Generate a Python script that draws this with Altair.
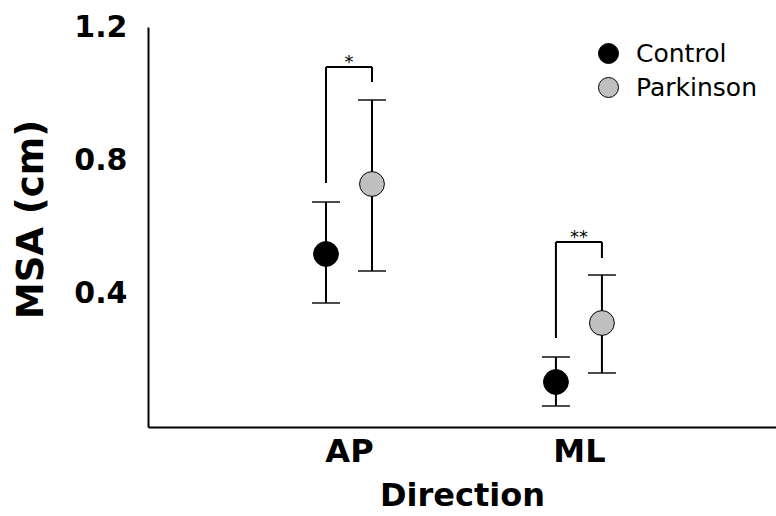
import json
import altair as alt
import pandas as pd

# ---- data ----
directions = ["AP", "ML"]
groups = ["Control", "Parkinson"]
control_mean = [0.519, 0.135]
control_upper = [0.675, 0.210]
control_lower = [0.372, 0.063]
parkinson_mean = [0.729, 0.312]
parkinson_upper = [0.981, 0.456]
parkinson_lower = [0.468, 0.162]
bracket_top = [1.080, 0.555]
bracket_left_low = [0.732, 0.267]
bracket_right_low = [1.035, 0.507]
sig_labels = ["*", "**"]

DODGE = 0.1

rows = []
for i, d in enumerate(directions):
    rows.append(dict(Direction=d, Group="Control", pos=i - DODGE, mean=control_mean[i],
                     upper=control_upper[i], lower=control_lower[i]))
    rows.append(dict(Direction=d, Group="Parkinson", pos=i + DODGE, mean=parkinson_mean[i],
                     upper=parkinson_upper[i], lower=parkinson_lower[i]))
df = pd.DataFrame(rows)

brows = []
for i, d in enumerate(directions):
    brows.append(dict(Direction=d, xl=i - DODGE, xr=i + DODGE, xm=i, top=bracket_top[i],
                      ll=bracket_left_low[i], rl=bracket_right_low[i], label=sig_labels[i]))
bdf = pd.DataFrame(brows)

xscale = alt.Scale(domain=[-0.874, 1.857], nice=False, zero=False)
yscale = alt.Scale(domain=[0, 1.2], nice=False, zero=False)
label_expr = json.dumps(directions) + "[datum.value]"


def X(field):
    return alt.X(field, type="quantitative", scale=xscale, title="Direction",
                 axis=alt.Axis(values=[0, 1], labelExpr=label_expr))


def Y(field):
    return alt.Y(field, type="quantitative", scale=yscale, title="MSA (cm)",
                 axis=alt.Axis(values=[0.4, 0.8, 1.2], format=".1f"))


base = alt.Chart(df)
err = base.mark_rule(color="black", strokeWidth=2).encode(x=X("pos"), y=Y("lower"), y2="upper")
cap_hi = base.mark_tick(orient="horizontal", size=28, thickness=2, color="black").encode(
    x=X("pos"), y=Y("upper"))
cap_lo = base.mark_tick(orient="horizontal", size=28, thickness=2, color="black").encode(
    x=X("pos"), y=Y("lower"))
pts = base.mark_circle(size=616, stroke="black", strokeWidth=1, opacity=1).encode(
    x=X("pos"), y=Y("mean"),
    fill=alt.Fill("Group:N", scale=alt.Scale(domain=groups, range=["#000000", "#c0c0c0"]),
                  legend=alt.Legend(orient="none", legendX=448, legendY=14, title=None,
                                    labelFontSize=25, labelFont="DejaVu Sans",
                                    labelFontWeight="normal", labelColor="black",
                                    symbolSize=400, symbolType="circle",
                                    symbolStrokeColor="black", symbolStrokeWidth=1,
                                    symbolOpacity=1, labelOffset=15, rowPadding=8,
                                    padding=0)))

bb = alt.Chart(bdf)
leg_l = bb.mark_rule(color="black", strokeWidth=2).encode(x=X("xl"), y=Y("ll"), y2="top")
leg_r = bb.mark_rule(color="black", strokeWidth=2).encode(x=X("xr"), y=Y("rl"), y2="top")
hor = bb.mark_rule(color="black", strokeWidth=2).encode(x=X("xl"), x2="xr", y=Y("top"))
stars = bb.mark_text(baseline="alphabetic", fontSize=18, font="DejaVu Sans", dy=1,
                     color="black").encode(x=X("xm"), y=Y("top"), text="label:N")

chart = alt.layer(err, cap_hi, cap_lo, leg_l, leg_r, hor, stars, pts).properties(
    width=628, height=400,
    padding={"left": 148, "top": 27, "right": 0, "bottom": 89},
    autosize=alt.AutoSizeParams(type="none"),
    background="white",
).configure_view(stroke=None).configure_axis(
    domainColor="black", domainWidth=2, ticks=False, tickSize=0, grid=False,
    labelFont="DejaVu Sans", labelFontWeight="bold", labelColor="black",
    titleFont="DejaVu Sans", titleFontWeight="bold", titleColor="black",
    labelFlush=False, labelOverlap=False,
).configure_axisY(
    labelFontSize=30, labelPadding=21, titleFontSize=37, titleAngle=270,
    titleX=-106, titleY=192, titleBaseline="alphabetic", titleAlign="center",
).configure_axisX(
    labelFontSize=32, labelPadding=9, titleFontSize=32, titleBaseline="alphabetic",
    titleY=78,
)

chart.save("out.html", embed_options={"renderer": "svg", "actions": False})
